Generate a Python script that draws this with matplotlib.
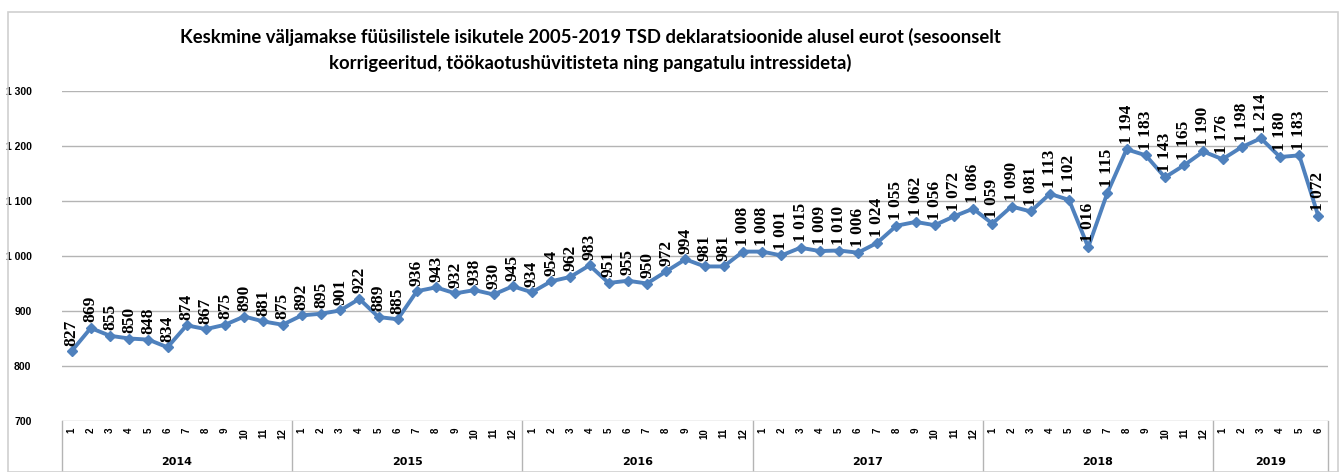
import matplotlib
matplotlib.use("Agg")
from matplotlib import pyplot as plt
from matplotlib.patches import Rectangle
import matplotlib.transforms as mtransforms

years = ["2014", "2015", "2016", "2017", "2018", "2019"]
months_per_year = [12, 12, 12, 12, 12, 6]
values = [827, 869, 855, 850, 848, 834, 874, 867, 875, 890, 881, 875,
          892, 895, 901, 922, 889, 885, 936, 943, 932, 938, 930, 945,
          934, 954, 962, 983, 951, 955, 950, 972, 994, 981, 981, 1008,
          1008, 1001, 1015, 1009, 1010, 1006, 1024, 1055, 1062, 1056, 1072, 1086,
          1059, 1090, 1081, 1113, 1102, 1016, 1115, 1194, 1183, 1143, 1165, 1190,
          1176, 1198, 1214, 1180, 1183, 1072]
month_labels = [str(m + 1) for n in months_per_year for m in range(n)]
title = ("Keskmine väljamakse füüsilistele isikutele 2005-2019 TSD deklaratsioonide alusel eurot (sesoonselt\n"
         "korrigeeritud, töökaotushüvitisteta ning pangatulu intressideta)")


def fmt(v):
    return "{:,}".format(v).replace(",", " ")


W, H = 1344, 472
fig = plt.figure(figsize=(W / 100, H / 100), dpi=100)
ax = fig.add_axes([62 / W, 51 / H, 1266 / W, 330 / H])

# outer chart border
fig.patches.append(Rectangle((8 / W, 0), 1330 / W, 460 / H, transform=fig.transFigure,
                             fill=False, edgecolor="#d0d0d0", linewidth=1.2))

x = list(range(len(values)))
ax.plot(x, values, color="#4F81BD", linewidth=2.8, marker="D", markersize=5,
        markerfacecolor="#4F81BD", markeredgecolor="#4F81BD", zorder=3)

for xi, v in zip(x, values):
    ax.annotate(fmt(v), (xi, v), xytext=(0, 4), textcoords="offset points",
                rotation=90, ha="center", va="bottom", fontsize=12.5,
                fontweight="bold", family="Liberation Serif", color="black",
                annotation_clip=False)

ax.set_xlim(-0.5, len(values) - 0.5)
ax.set_ylim(700, 1300)
ax.set_yticks(range(700, 1301, 100))
ax.set_yticklabels([fmt(t) for t in range(700, 1301, 100)], fontsize=7.5,
                   fontweight="bold", family="Liberation Sans")
ax.grid(axis="y", color="#b4b4b4", linewidth=1)
ax.set_axisbelow(True)
for s in ax.spines.values():
    s.set_visible(False)
ax.tick_params(axis="y", length=0, pad=22)
ax.tick_params(axis="x", length=0, pad=5)
ax.set_xticks(x)
ax.set_xticklabels(month_labels, rotation=90, fontsize=7, fontweight="bold",
                   family="Liberation Sans")

# year groups below the months
trans = mtransforms.blended_transform_factory(ax.transData, ax.transAxes)
start = -0.5
bounds = [start]
for yr, n in zip(years, months_per_year):
    ax.text(start + n / 2, -41 / 330, yr, transform=trans, ha="center", va="center",
            fontsize=8, fontweight="bold", family="Liberation Sans Narrow")
    start += n
    bounds.append(start)
for b in bounds:
    ax.plot([b, b], [0, -51 / 330], transform=trans, color="#b4b4b4", linewidth=1,
            clip_on=False)

fig.text(590 / W, 1 - 50 / H, title, ha="center", va="center", fontsize=13.3,
         fontweight="bold", family="Lato", linespacing=1.55)

fig.savefig("out.png", dpi=100)
